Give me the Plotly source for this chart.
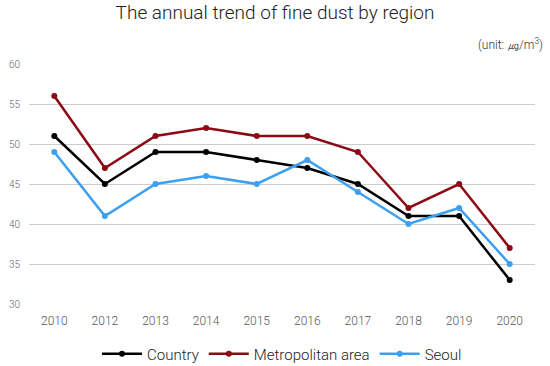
import plotly.graph_objects as go

years = ["2010", "2012", "2013", "2014", "2015", "2016", "2017", "2018", "2019", "2020"]
country = [51, 45, 49, 49, 48, 47, 45, 41, 41, 33]
metro = [56, 47, 51, 52, 51, 51, 49, 42, 45, 37]
seoul = [49, 41, 45, 46, 45, 48, 44, 40, 42, 35]

series = [("Country", country, "#000000"),
          ("Metropolitan area", metro, "#8b0a14"),
          ("Seoul", seoul, "#3d9ff0")]

fig = go.Figure()
for name, vals, col in series:
    fig.add_trace(go.Scatter(x=years, y=vals, name=name, mode="lines+markers",
                             line=dict(color=col, width=2.5),
                             marker=dict(color=col, size=6)))

fig.update_layout(
    width=550, height=366,
    margin=dict(l=29, r=15, t=64, b=62, autoexpand=False),
    paper_bgcolor="white", plot_bgcolor="white",
    font=dict(family="Roboto", color="#444"),
    title=dict(text="The annual trend of fine dust by region", x=0.5, xanchor="center",
               y=0.985, yanchor="top",
               font=dict(family="Roboto", size=19, color="#222", weight=300)),
    showlegend=True,
    legend=dict(orientation="h", x=0.5, xanchor="center", y=-0.14, yanchor="top",
                font=dict(family="Roboto", size=15, color="#222", weight=300),
                itemwidth=40, traceorder="normal"),
    annotations=[dict(text="(unit: ㎍/m<sup>3</sup>)", xref="paper", yref="paper",
                      x=1.02, y=1.04, xanchor="right", yanchor="bottom", showarrow=False,
                      font=dict(family="Roboto", size=12, color="#333", weight=300))],
)
fig.update_xaxes(type="category", range=[-0.5, len(years) - 0.5], showgrid=False,
                 showline=False, ticks="", automargin=False, ticklabelstandoff=8,
                 tickfont=dict(family="Roboto", size=12, color="#555", weight=300))
fig.update_yaxes(range=[30, 60], dtick=5, showgrid=True, gridcolor="#cccccc", gridwidth=1,
                 zeroline=False, showline=False, ticks="", automargin=False,
                 ticklabelstandoff=8,
                 tickfont=dict(family="Roboto", size=10, color="#666", weight=300))

fig.write_html("out.html", config={"displayModeBar": False},
               post_script="document.body.style.margin='0';")
